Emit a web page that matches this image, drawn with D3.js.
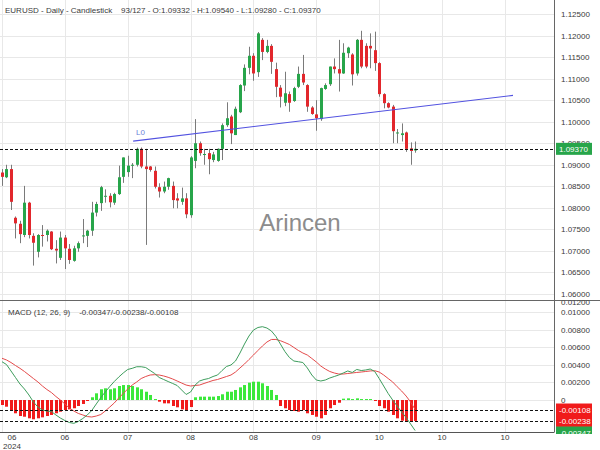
<!DOCTYPE html>
<html><head><meta charset="utf-8">
<script src="https://cdn.jsdelivr.net/npm/d3@7"></script>
<style>html,body{margin:0;padding:0;background:#fff;}svg{display:block;font-family:"Liberation Sans",Arial,sans-serif;}</style>
</head><body><svg id="c" width="600" height="450"></svg>
<script>
// ---- data ----
const open = [1.0882,1.0871,1.0890,1.0777,1.0763,1.0737,1.0812,1.0735,1.0698,1.0737,
1.0737,1.0745,1.0705,1.0684,1.0731,1.0705,1.0677,1.0706,1.0734,1.0735,
1.0747,1.0789,1.0811,1.0827,1.0828,1.0812,1.0832,1.0872,1.0883,1.0899,
1.0900,1.0937,1.0896,1.0896,1.0886,1.0848,1.0838,1.0849,1.0851,1.0822,
1.0814,1.0822,1.0783,1.0909,1.0950,1.0923,1.0927,1.0911,1.0909,1.0937,
1.0992,1.1012,1.0969,1.1022,1.1084,1.1125,1.1153,1.1115,1.1190,1.1162,
1.1176,1.1122,1.1079,1.1044,1.1064,1.1048,1.1081,1.1111,1.1085,1.1033,
1.1017,1.1006,1.1076,1.1087,1.1128,1.1122,1.1112,1.1159,1.1156,1.1112,
1.1190,1.1176,1.1176,1.1166,1.1136,1.1064,1.1043,1.1035,1.0973,1.0969,
1.0975,1.0938,1.09332];
const high = [1.0890,1.0900,1.0900,1.0780,1.0770,1.0851,1.0814,1.0741,1.0739,1.0760,
1.0750,1.0746,1.0725,1.0745,1.0737,1.0716,1.0712,1.0722,1.0774,1.0749,
1.0814,1.0814,1.0851,1.0843,1.0834,1.0835,1.0898,1.0917,1.0921,1.0904,
1.0940,1.0940,1.0937,1.0897,1.0896,1.0857,1.0861,1.0870,1.0861,1.0834,
1.0847,1.0834,1.0920,1.1006,1.0954,1.0937,1.0937,1.0930,1.0938,1.0996,
1.1045,1.1016,1.1035,1.1087,1.1133,1.1174,1.1159,1.1208,1.1194,1.1190,
1.1180,1.1137,1.1085,1.1116,1.1070,1.1081,1.1128,1.1155,1.1087,1.1036,
1.1050,1.1079,1.1089,1.1128,1.1147,1.1190,1.1182,1.1174,1.1159,1.1192,
1.1211,1.1182,1.1205,1.1209,1.1138,1.1066,1.1045,1.1039,1.0983,1.0996,
1.0977,1.0952,1.09540];
const low = [1.0851,1.0869,1.0795,1.0729,1.0718,1.0732,1.0729,1.0666,1.0685,1.0710,
1.0722,1.0702,1.0671,1.0679,1.0658,1.0670,1.0675,1.0698,1.0718,1.0709,
1.0735,1.0780,1.0793,1.0812,1.0801,1.0807,1.0830,1.0858,1.0872,1.0869,
1.0896,1.0892,1.0714,1.0884,1.0845,1.0824,1.0834,1.0842,1.0799,1.0799,
1.0807,1.0776,1.0777,1.0892,1.0921,1.0900,1.0878,1.0906,1.0907,1.0911,
1.0988,1.0948,1.0969,1.1020,1.1071,1.1110,1.1095,1.1104,1.1143,1.1159,
1.1111,1.1057,1.1033,1.1036,1.1023,1.1046,1.1078,1.1085,1.1023,1.1016,
1.0979,1.1002,1.1074,1.1083,1.1112,1.1070,1.1111,1.1148,1.1084,1.1107,
1.1124,1.1124,1.1124,1.1118,1.1058,1.1031,1.1031,1.0950,1.0950,1.0954,
1.0930,1.0900,1.09280];
const close = [1.0872,1.0890,1.0814,1.0764,1.0739,1.0812,1.0737,1.0719,1.0737,1.0735,
1.0747,1.0704,1.0701,1.0731,1.0706,1.0679,1.0706,1.0718,1.0736,1.0747,
1.0789,1.0809,1.0848,1.0828,1.0813,1.0832,1.0871,1.0917,1.0898,1.0900,
1.0937,1.0896,1.0890,1.0888,1.0849,1.0838,1.0849,1.0869,1.0818,1.0817,
1.0822,1.0785,1.0917,1.0950,1.0927,1.0925,1.0913,1.0924,1.0937,1.0992,
1.1008,1.0973,1.1030,1.1085,1.1125,1.1153,1.1112,1.1205,1.1162,1.1176,
1.1139,1.1081,1.1058,1.1066,1.1044,1.1078,1.1111,1.1091,1.1035,1.1018,
1.1008,1.1078,1.1085,1.1128,1.1122,1.1112,1.1160,1.1172,1.1110,1.1190,
1.1128,1.1128,1.1170,1.1136,1.1064,1.1043,1.1033,1.0978,1.0975,1.0973,
1.0937,1.0932,1.09370];
const macd = [0.00435,0.00403,0.00330,0.00256,0.00182,0.00125,0.00057,-0.00023,-0.00080,-0.00114,
-0.00125,-0.00131,-0.00170,-0.00205,-0.00233,-0.00256,-0.00265,-0.00244,-0.00210,-0.00170,
-0.00119,-0.00045,0.00028,0.00091,0.00153,0.00210,0.00261,0.00307,0.00347,0.00360,
0.00378,0.00378,0.00369,0.00335,0.00301,0.00256,0.00233,0.00210,0.00188,0.00165,
0.00114,0.00063,0.00091,0.00170,0.00216,0.00233,0.00244,0.00267,0.00284,0.00335,
0.00381,0.00398,0.00443,0.00534,0.00636,0.00727,0.00795,0.00824,0.00833,0.00818,
0.00784,0.00722,0.00636,0.00551,0.00483,0.00443,0.00435,0.00426,0.00364,0.00284,
0.00227,0.00216,0.00227,0.00250,0.00267,0.00284,0.00307,0.00330,0.00313,0.00347,
0.00335,0.00341,0.00352,0.00324,0.00244,0.00159,0.00074,0.00000,-0.00068,-0.00136,
-0.00199,-0.00273,-0.00347];
const signal = [0.00474,0.00455,0.00426,0.00392,0.00360,0.00324,0.00284,0.00244,0.00205,0.00159,
0.00119,0.00085,0.00040,0.00000,-0.00045,-0.00091,-0.00125,-0.00153,-0.00170,-0.00188,
-0.00193,-0.00182,-0.00165,-0.00125,-0.00080,-0.00034,0.00023,0.00074,0.00125,0.00170,
0.00205,0.00244,0.00267,0.00284,0.00288,0.00284,0.00273,0.00258,0.00239,0.00216,
0.00193,0.00170,0.00159,0.00165,0.00170,0.00188,0.00205,0.00222,0.00233,0.00250,
0.00267,0.00284,0.00318,0.00364,0.00409,0.00460,0.00511,0.00563,0.00614,0.00659,
0.00688,0.00688,0.00674,0.00653,0.00631,0.00597,0.00563,0.00534,0.00511,0.00472,
0.00432,0.00386,0.00352,0.00324,0.00307,0.00295,0.00295,0.00301,0.00307,0.00313,
0.00318,0.00324,0.00330,0.00333,0.00318,0.00284,0.00244,0.00205,0.00151,0.00102,
0.00045,-0.00023,-0.00108];
const hist = [-0.00057,-0.00076,-0.00114,-0.00151,-0.00182,-0.00190,-0.00208,-0.00219,-0.00208,-0.00197,
-0.00182,-0.00170,-0.00151,-0.00133,-0.00114,-0.00106,-0.00094,-0.00068,-0.00045,-0.00011,
0.00031,0.00076,0.00122,0.00133,0.00122,0.00133,0.00159,0.00170,0.00170,0.00159,
0.00144,0.00122,0.00094,0.00057,0.00011,-0.00019,-0.00038,-0.00038,-0.00068,-0.00083,
-0.00106,-0.00125,-0.00080,0.00031,0.00038,0.00038,0.00038,0.00038,0.00045,0.00065,
0.00094,0.00094,0.00114,0.00144,0.00170,0.00197,0.00208,0.00208,0.00190,0.00159,
0.00114,0.00057,-0.00068,-0.00094,-0.00114,-0.00125,-0.00133,-0.00114,-0.00151,-0.00170,
-0.00190,-0.00208,-0.00170,-0.00094,-0.00057,-0.00031,0.00015,0.00019,0.00011,0.00019,
0.00011,0.00011,0.00011,-0.00008,-0.00068,-0.00094,-0.00133,-0.00170,-0.00208,-0.00235,
-0.00247,-0.00250,-0.00238];
const totalBars = 127;
const xTickIdx = [0,14,28,42,56,70,84,98,112];
const xTickLabels = ["06","06","07","08","08","09","10","10","10"];
const yearLabel = "2024";
const priceTicks = [1.125,1.12,1.115,1.11,1.105,1.10,1.095,1.09,1.085,1.08,1.075,1.07,1.065,1.06];
const macdTicks = [0.012,0.010,0.008,0.006,0.004,0.002,0];
const trendIdx = [29.2, 113.8];
const trendPrice = [1.0955, 1.1061];
const trendLabel = "L0";
const titleText = "EURUSD - Daily - Candlestick";
const macdTitle = "MACD (12, 26, 9)";
const watermark = "Arincen";

// ---- layout ----
const svg = d3.select("#c");
const axisX = 554.5;
const p1 = {top:0, bottom:300};
const p2 = {top:300, bottom:432};
const x = d3.scaleLinear().domain([0,123.2]).range([2,555.2]);
const y = d3.scaleLinear().domain([1.05861,1.12825]).range([p1.bottom,p1.top]);
const ym = d3.scaleLinear().domain([-0.003636,0.011364]).range([p2.bottom,p2.top]);
const n = close.length;
const GREEN="#27a54a", RED="#e2272c", WICK="#7a7a7a", GRID="#e8e8e8", TXT="#3a3a3a";
const fmt = v => v.toFixed(5);

const defs = svg.append("defs");
defs.append("clipPath").attr("id","cp1").append("rect").attr("x",0).attr("y",p1.top).attr("width",axisX).attr("height",p1.bottom-p1.top);
defs.append("clipPath").attr("id","cp2").append("rect").attr("x",0).attr("y",p2.top).attr("width",axisX).attr("height",p2.bottom-p2.top);
defs.append("clipPath").attr("id","cpa2").append("rect").attr("x",axisX).attr("y",p2.top+0.5).attr("width",50).attr("height",p2.bottom-p2.top+1.5);

// grid
const g1 = svg.append("g").attr("clip-path","url(#cp1)");
const g2 = svg.append("g").attr("clip-path","url(#cp2)");
g1.selectAll("line.hg").data(priceTicks).join("line")
  .attr("x1",0).attr("x2",axisX).attr("y1",d=>Math.round(y(d))+0.5).attr("y2",d=>Math.round(y(d))+0.5)
  .attr("stroke",GRID);
g2.selectAll("line.hg").data(macdTicks).join("line")
  .attr("x1",0).attr("x2",axisX).attr("y1",d=>Math.round(ym(d))+0.5).attr("y2",d=>Math.round(ym(d))+0.5)
  .attr("stroke",GRID);
[g1,g2].forEach(g=>g.selectAll("line.vg").data(xTickIdx).join("line")
  .attr("x1",d=>Math.round(x(d))+0.5).attr("x2",d=>Math.round(x(d))+0.5)
  .attr("y1",0).attr("y2",p2.bottom).attr("stroke",GRID));

// watermark
svg.append("text").attr("x",300).attr("y",231).attr("text-anchor","middle")
  .attr("font-size",24).attr("fill","#8c8c8c").text(watermark);

// candles
const idx = d3.range(n);
const cx = i => Math.round(x(i));
g1.selectAll("line.wick").data(idx).join("line")
  .attr("x1",i=>cx(i)+0.5).attr("x2",i=>cx(i)+0.5)
  .attr("y1",i=>y(high[i])).attr("y2",i=>y(low[i]))
  .attr("stroke",WICK).attr("stroke-width",1);
g1.selectAll("rect.body").data(idx).join("rect")
  .attr("x",i=>cx(i)-1).attr("width",3)
  .attr("y",i=>Math.min(y(open[i]),y(close[i])))
  .attr("height",i=>Math.max(1,Math.abs(y(open[i])-y(close[i]))))
  .attr("fill",i=>close[i]>=open[i]?GREEN:RED);

// trend line
g1.append("line").attr("x1",x(trendIdx[0])).attr("y1",y(trendPrice[0]))
  .attr("x2",x(trendIdx[1])).attr("y2",y(trendPrice[1]))
  .attr("stroke","#5252e0").attr("stroke-width",1.1);
svg.append("text").attr("x",x(trendIdx[0])+3).attr("y",y(trendPrice[0])-6)
  .attr("font-size",8).attr("fill","#6a7fd8").text(trendLabel);

// current price dashed line
const last = n-1;
svg.append("line").attr("x1",0).attr("x2",axisX).attr("y1",Math.round(y(close[last]))+0.5).attr("y2",Math.round(y(close[last]))+0.5)
  .attr("stroke","#111").attr("stroke-dasharray","3,2");

// MACD histogram
g2.selectAll("rect.h").data(idx).join("rect")
  .attr("x",i=>cx(i)-1).attr("width",3)
  .attr("y",i=>Math.min(ym(0),ym(hist[i])))
  .attr("height",i=>Math.max(1,Math.abs(ym(hist[i])-ym(0))))
  .attr("fill",i=>hist[i]>=0?"#3be83b":"#f01b1b");
const line = arr => d3.line().x((d,i)=>x(i)).y(d=>ym(d))(arr);
g2.append("path").attr("d",line(signal)).attr("fill","none").attr("stroke","#e34b4b").attr("stroke-width",1);
g2.append("path").attr("d",line(macd)).attr("fill","none").attr("stroke","#3d9c5c").attr("stroke-width",1);
[signal[last],hist[last]].forEach(v=>{
  svg.append("line").attr("x1",0).attr("x2",axisX).attr("y1",Math.round(ym(v))+0.5).attr("y2",Math.round(ym(v))+0.5)
    .attr("stroke","#111").attr("stroke-dasharray","3,2");
});

// frames
svg.append("line").attr("x1",axisX).attr("x2",axisX).attr("y1",0).attr("y2",p2.bottom).attr("stroke","#666");
svg.append("line").attr("x1",0).attr("x2",600).attr("y1",p2.top+0.5).attr("y2",p2.top+0.5).attr("stroke","#666");
svg.append("line").attr("x1",0).attr("x2",axisX).attr("y1",p2.bottom+0.5).attr("y2",p2.bottom+0.5).attr("stroke","#555");

// price axis labels
svg.append("g").selectAll("text").data(priceTicks).join("text")
  .attr("x",561).attr("y",d=>y(d)+3).attr("font-size",8).attr("fill",TXT).text(fmt);
const ga2 = svg.append("g").attr("clip-path","url(#cpa2)");
ga2.selectAll("text").data(macdTicks).join("text")
  .attr("x",561).attr("y",d=>Math.max(ym(d),302)+3).attr("font-size",8).attr("fill",TXT)
  .text(d=>d===0?"0":fmt(d));
// value boxes
function box(g, yc, color, label){
  g.append("rect").attr("x",556).attr("y",yc-6).attr("width",36).attr("height",12).attr("fill",color);
  g.append("text").attr("x",559).attr("y",yc+3).attr("font-size",8).attr("fill","#fff").text(label);
}
box(svg, y(close[last]), GREEN, fmt(close[last]));
box(ga2, ym(signal[last]), "#f01b1b", fmt(signal[last]));
box(ga2, ym(hist[last]), "#f01b1b", fmt(hist[last]));
box(ga2, ym(macd[last])+2, GREEN, fmt(macd[last]));

// x axis labels
svg.append("g").selectAll("text").data(xTickIdx).join("text")
  .attr("x",d=>Math.max(x(d),12)).attr("y",440).attr("text-anchor","middle")
  .attr("font-size",8).attr("fill",TXT).text((d,i)=>xTickLabels[i]);
svg.append("text").attr("x",12).attr("y",449).attr("text-anchor","middle").attr("font-size",8).attr("fill",TXT).text(yearLabel);

// titles
svg.append("text").attr("x",5).attr("y",13).attr("font-size",8).attr("fill",TXT)
  .text(`${titleText}    ${n}/${totalBars} - O:${fmt(open[last])} - H:${fmt(high[last])} - L:${fmt(low[last])} - C:${fmt(close[last])}`)
  .attr("xml:space","preserve").style("white-space","pre");
svg.append("text").attr("x",8).attr("y",315).attr("font-size",8).attr("fill",TXT).style("white-space","pre")
  .text(`${macdTitle}    ${fmt(macd[last])}/${fmt(hist[last])}/${fmt(signal[last])}`);
</script></body></html>
